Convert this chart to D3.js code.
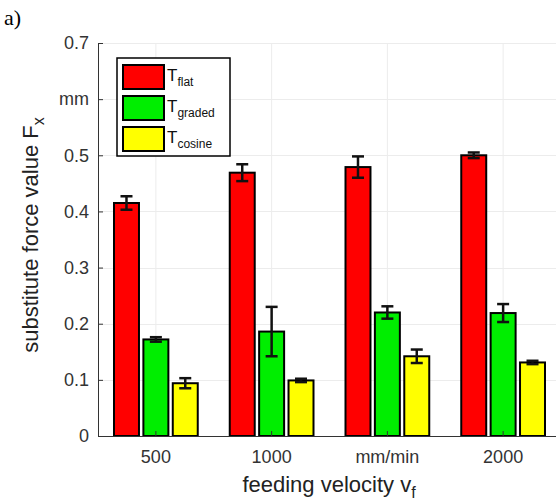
<!DOCTYPE html>
<html>
<head>
<meta charset="utf-8">
<script src="https://cdn.jsdelivr.net/npm/d3@7"></script>
<style>
  body { margin: 0; background: #fff; }
  text { font-family: "Liberation Sans", Arial, sans-serif; }
</style>
</head>
<body>
<div id="chart"></div>
<script>
// categories on the x axis
var groups = ["500", "1000", "mm/min", "2000"];
var seriesNames = ["flat", "graded", "cosine"];
var seriesColors = ["#ff0000", "#00ee00", "#ffff00"];

// mean values per series (one entry per group)
var flatVals = [0.415, 0.469, 0.479, 0.500];
var gradedVals = [0.172, 0.186, 0.220, 0.219];
var cosineVals = [0.094, 0.099, 0.142, 0.131];

// half-length of error bars
var flatErr = [0.012, 0.015, 0.019, 0.005];
var gradedErr = [0.004, 0.044, 0.011, 0.016];
var cosineErr = [0.009, 0.003, 0.012, 0.003];

var yTicks = [0, 0.1, 0.2, 0.3, 0.4, 0.5, 0.6, 0.7];
var yTickLabels = ["0", "0.1", "0.2", "0.3", "0.4", "0.5", "mm", "0.7"];

var width = 556;
var height = 502;
var margin = { top: 43, right: -5, bottom: 66, left: 98 };

var values = [flatVals, gradedVals, cosineVals];
var errors = [flatErr, gradedErr, cosineErr];

var svg = d3
    .select("#chart")
    .append("svg")
    .attr("width", width)
    .attr("height", height);

var x = d3
    .scaleBand()
    .domain(groups)
    .range([margin.left, width - margin.right])
    .padding(0);

var xSub = d3
    .scaleBand()
    .domain(d3.range(seriesNames.length))
    .range([16, x.bandwidth() - 16])
    .paddingInner(0.15);

var y = d3
    .scaleLinear()
    .domain([0, 0.7])
    .range([height - margin.bottom, margin.top]);

// faint grid
var grid = svg.append("g").attr("stroke", "#ececec").attr("stroke-width", 1);
grid.selectAll("line.h")
    .data(yTicks.slice(1))
    .join("line")
    .attr("x1", margin.left)
    .attr("x2", width)
    .attr("y1", (d) => Math.round(y(d)) + 0.5)
    .attr("y2", (d) => Math.round(y(d)) + 0.5);
grid.selectAll("line.v")
    .data(groups)
    .join("line")
    .attr("x1", (d) => x(d) + x.bandwidth() / 2)
    .attr("x2", (d) => x(d) + x.bandwidth() / 2)
    .attr("y1", y(0))
    .attr("y2", y(0.7));

// bars
var rows = [];
groups.forEach(function (g, gi) {
    seriesNames.forEach(function (s, si) {
        rows.push({ group: g, si: si, v: values[si][gi], e: errors[si][gi] });
    });
});

var bars = svg.append("g");
bars.selectAll("rect")
    .data(rows)
    .join("rect")
    .attr("x", (d) => x(d.group) + xSub(d.si))
    .attr("width", xSub.bandwidth())
    .attr("y", (d) => y(d.v))
    .attr("height", (d) => y(0) - y(d.v))
    .attr("fill", (d) => seriesColors[d.si])
    .attr("stroke", "#000")
    .attr("stroke-width", 2);

// error bars
var eb = svg.append("g").attr("stroke", "#111").attr("stroke-width", 2.5);
var cx = (d) => x(d.group) + xSub(d.si) + xSub.bandwidth() / 2;
eb.selectAll("line.stem")
    .data(rows)
    .join("line")
    .attr("x1", cx)
    .attr("x2", cx)
    .attr("y1", (d) => y(d.v + d.e))
    .attr("y2", (d) => y(d.v - d.e));
eb.selectAll("line.top")
    .data(rows)
    .join("line")
    .attr("x1", (d) => cx(d) - 6)
    .attr("x2", (d) => cx(d) + 6)
    .attr("y1", (d) => y(d.v + d.e))
    .attr("y2", (d) => y(d.v + d.e));
eb.selectAll("line.bot")
    .data(rows)
    .join("line")
    .attr("x1", (d) => cx(d) - 6)
    .attr("x2", (d) => cx(d) + 6)
    .attr("y1", (d) => y(d.v - d.e))
    .attr("y2", (d) => y(d.v - d.e));

// axes
var yAxis = svg
    .append("g")
    .attr("transform", `translate(${margin.left},0)`)
    .call(
        d3
            .axisLeft(y)
            .tickValues(yTicks)
            .tickFormat((d, i) => yTickLabels[i])
            .tickSizeInner(-5)
            .tickSizeOuter(0)
            .tickPadding(9)
    );
yAxis.select(".domain").attr("stroke", "#333");
yAxis.selectAll(".tick line").attr("stroke", "#333");
yAxis.selectAll("text").style("font-size", "18px").attr("fill", "#333");

var xAxis = svg
    .append("g")
    .attr("transform", `translate(0,${y(0)})`)
    .call(d3.axisBottom(x).tickSizeInner(-5).tickSizeOuter(0).tickPadding(14));
xAxis.select(".domain").attr("stroke", "#333");
xAxis.selectAll(".tick line").attr("stroke", "#333");
xAxis.selectAll("text").style("font-size", "18px").attr("fill", "#333");

// axis titles
var yt = svg
    .append("text")
    .attr("transform", "translate(38,235) rotate(-90)")
    .attr("text-anchor", "middle")
    .style("font-size", "22px")
    .attr("fill", "#222");
yt.append("tspan").text("substitute force value F");
yt.append("tspan").attr("dy", 6).style("font-size", "16px").text("x");

var xt = svg
    .append("text")
    .attr("x", 329)
    .attr("y", 492)
    .attr("text-anchor", "middle")
    .style("font-size", "22px")
    .attr("fill", "#222");
xt.append("tspan").text("feeding velocity v");
xt.append("tspan").attr("dy", 6).style("font-size", "16px").text("f");

// panel letter
svg.append("text")
    .attr("x", 4)
    .attr("y", 25)
    .style("font-family", "'Liberation Serif', 'Times New Roman', serif")
    .style("font-size", "22px")
    .text("a)");

// legend
var legend = svg.append("g").attr("transform", "translate(117,58)");
legend.append("rect")
    .attr("width", 113)
    .attr("height", 98)
    .attr("fill", "#fff")
    .attr("stroke", "#000")
    .attr("stroke-width", 1.5);
seriesNames.forEach(function (s, i) {
    var row = legend.append("g").attr("transform", `translate(6,${7 + i * 31})`);
    row.append("rect")
        .attr("width", 41)
        .attr("height", 24)
        .attr("fill", seriesColors[i])
        .attr("stroke", "#000")
        .attr("stroke-width", 2);
    var t = row.append("text").attr("x", 44).attr("y", 16).style("font-size", "17px").attr("fill", "#111");
    t.append("tspan").text("T");
    t.append("tspan").attr("dy", 5).style("font-size", "12px").text(s);
});
</script>
</body>
</html>
